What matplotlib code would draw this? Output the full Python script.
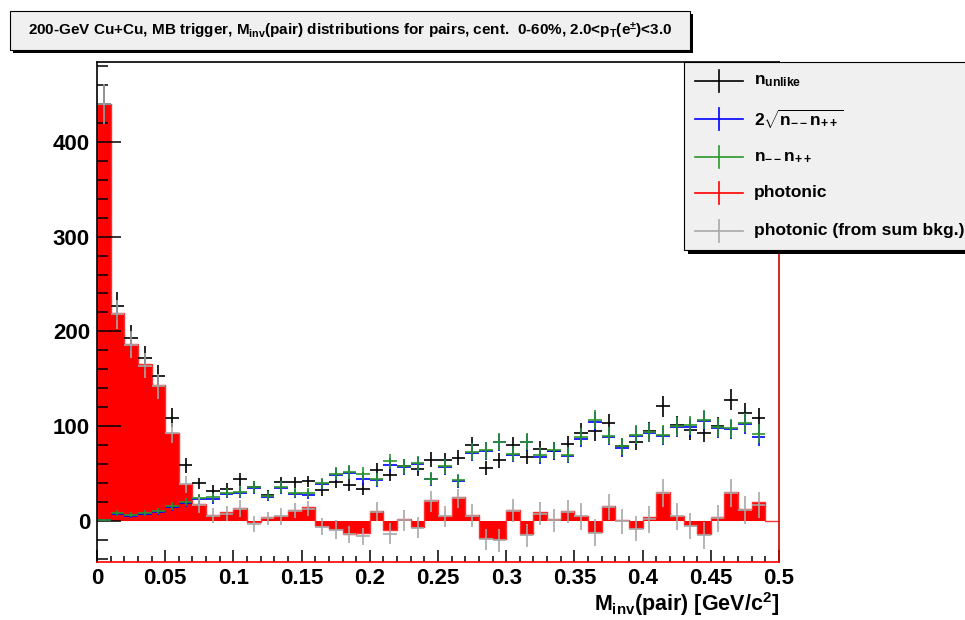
import numpy as np
import matplotlib
matplotlib.use('Agg')
from matplotlib import pyplot as plt
from matplotlib.patches import Rectangle
from matplotlib.lines import Line2D
from matplotlib.ticker import MultipleLocator

plt.rcParams['font.family'] = ['Liberation Sans', 'DejaVu Sans']
plt.rcParams['font.weight'] = 'bold'
plt.rcParams['mathtext.fontset'] = 'custom'
plt.rcParams['mathtext.rm'] = 'Liberation Sans:bold'
plt.rcParams['mathtext.it'] = 'Liberation Sans:bold'
plt.rcParams['mathtext.bf'] = 'Liberation Sans:bold'
plt.rcParams['mathtext.sf'] = 'Liberation Sans:bold'

# 50 bins of 0.01 GeV/c^2 from 0 to 0.5
bin_lo = 0.0
bin_w = 0.01
nbins = 50

# photonic (red histogram), all 50 bins
photonic = [440, 219, 187, 166, 144, 93, 39, 18, 7, 10,
            14, -1, 4, 6, 12, 15, -5, -8, -13, -12,
            11, -9, 2, -6, 22, 6, 25, 7, -18, -19,
            12, -14, 10, 2, 11, 6, -11, 16, 1, -7,
            4, 31, 6, -4, -14, 4, 31, 13, 20, 0]

# marker series, first 49 bins (last bin empty)
n_unlike = [440, 227, 193, 172, 153, 109, 59, 40, 32, 34,
            44, 36, 28, 41, 41, 42, 33, 41, 38, 34,
            54, 49, 58, 55, 65, 64, 67, 80, 56, 64,
            80, 68, 76, 74, 81, 93, 95, 103, 79, 84,
            95, 121, 101, 96, 93, 100, 128, 114, 109]
n_unlike_err = [21, 15, 14, 13, 12, 10, 8, 6, 6, 6,
                7, 6, 5, 6, 6, 6, 6, 6, 6, 6,
                7, 7, 8, 7, 8, 8, 8, 9, 7, 8,
                9, 8, 9, 9, 9, 10, 10, 10, 9, 9,
                10, 11, 10, 10, 10, 10, 11, 11, 10]

bkg_sum = [1, 9, 7, 9, 11, 16, 20, 24, 25, 30,
           31, 36, 27, 36, 30, 30, 40, 50, 52, 50,
           44, 63, 58, 61, 45, 58, 43, 73, 75, 84,
           71, 84, 70, 75, 70, 89, 107, 90, 79, 91,
           94, 91, 100, 101, 107, 99, 98, 104, 92]
bkg_geo = [1, 8, 6, 8, 10, 15, 19, 23, 23, 29,
           30, 35, 26, 35, 29, 28, 39, 49, 51, 45,
           43, 59, 57, 60, 44, 57, 42, 72, 74, 83,
           70, 83, 68, 74, 69, 87, 105, 89, 77, 90,
           93, 90, 99, 99, 106, 98, 97, 102, 89]
bkg_err = [1, 3, 3, 3, 3, 4, 4, 5, 5, 5,
           6, 6, 5, 6, 5, 5, 6, 7, 7, 7,
           7, 8, 8, 8, 7, 8, 7, 9, 9, 9,
           8, 9, 8, 9, 8, 9, 10, 9, 9, 10,
           10, 10, 10, 10, 10, 10, 10, 10, 10]

photonic_sum = [440, 218, 186, 164, 142, 93, 39, 17, 6, 8,
                13, -3, 3, 5, 11, 13, -6, -9, -14, -16,
                10, -13, 1, -7, 21, 5, 24, 6, -19, -20,
                11, -15, 8, 1, 10, 5, -12, 15, 0, -8,
                2, 30, 5, -5, -15, 3, 30, 12, 17]
photonic_sum_err = [21, 15, 14, 13, 13, 11, 9, 8, 8, 8,
                    9, 8, 7, 9, 8, 8, 9, 10, 9, 9,
                    10, 11, 11, 11, 11, 11, 10, 12, 11, 12,
                    12, 12, 12, 12, 12, 14, 14, 14, 13, 13,
                    14, 15, 14, 14, 14, 14, 15, 15, 14]

labels = [r'$n_{unlike}$', r'$2\sqrt{n_{--}n_{++}}$', r'$n_{--}n_{++}$',
          'photonic', 'photonic (from sum bkg.)']
colors = ['black', '#0000ff', '#2a962a', '#ff0000', '#a8a8a8']

title = (r'200-GeV Cu+Cu, MB trigger, $M_{inv}$(pair) distributions for pairs, '
         r'cent.  0-60%, 2.0<$p_{T}$(e$^{\pm}$)<3.0')

W, H = 965, 620
fig = plt.figure(figsize=(W / 100, H / 100), dpi=100)
ax = fig.add_axes([97 / W, 1 - 562 / H, (779 - 97) / W, (562 - 62) / H])

edges = bin_lo + bin_w * np.arange(nbins + 1)
centers = edges[:-1] + bin_w / 2
m = len(n_unlike)

ax.stairs(photonic, edges, baseline=0, fill=True, color='#ff0000', lw=0)
ax.stairs(photonic, edges, baseline=0, color='#ff3030', lw=1.0)

series = [(n_unlike, n_unlike_err, colors[0]),
          (bkg_geo, bkg_err, colors[1]),
          (bkg_sum, bkg_err, colors[2]),
          (photonic_sum, photonic_sum_err, colors[4])]
for vals, errs, c in series:
    ax.errorbar(centers[:m], vals, xerr=bin_w / 2, yerr=errs, fmt='none',
                ecolor=c, elinewidth=1.2, capsize=0)

ax.set_xlim(0, 0.5)
ax.set_ylim(-43, 484)
ax.xaxis.set_minor_locator(MultipleLocator(0.01))
ax.yaxis.set_major_locator(MultipleLocator(100))
ax.yaxis.set_minor_locator(MultipleLocator(20))
ax.set_xticks([0, 0.05, 0.1, 0.15, 0.2, 0.25, 0.3, 0.35, 0.4, 0.45, 0.5])
ax.set_xticklabels(['0', '0.05', '0.1', '0.15', '0.2', '0.25', '0.3', '0.35',
                    '0.4', '0.45', '0.5'])
ax.tick_params(which='both', direction='in', top=False, right=False,
               labelsize=16, width=1.1)
ax.tick_params(axis='y', which='major', length=17, pad=5)
ax.tick_params(axis='y', which='minor', length=8)
ax.tick_params(axis='x', which='major', length=9, pad=4)
ax.tick_params(axis='x', which='minor', length=4.5)
for lab in ax.get_xticklabels() + ax.get_yticklabels():
    lab.set_fontweight('bold')

ax.spines['left'].set_color('black')
ax.spines['top'].set_color('black')
ax.spines['right'].set_color('#cc0000')
ax.spines['bottom'].set_color('#ff0000')
for s in ax.spines.values():
    s.set_linewidth(1.2)

fig.text(779 / W, 1 - 611 / H, r'$M_{inv}$(pair) [GeV/c$^{2}$]', ha='right',
         va='baseline', fontsize=15.5, fontweight='bold')

# title box with shadow
tf = fig.transFigure
fig.patches.append(Rectangle((13 / W, 1 - 53 / H), 680 / W, 39 / H,
                             transform=tf, facecolor='black', edgecolor='none'))
fig.patches.append(Rectangle((10 / W, 1 - 50 / H), 680 / W, 39 / H,
                             transform=tf, facecolor='#f0f0f0',
                             edgecolor='black', lw=0.8))
fig.text(350 / W, 1 - 31 / H, title, ha='center', va='center', fontsize=11.0,
         fontweight='bold')

# legend box with shadow
fig.patches.append(Rectangle((688 / W, 1 - 254 / H), 300 / W, 188 / H,
                             transform=tf, facecolor='black', edgecolor='none',
                             zorder=3))
fig.patches.append(Rectangle((684 / W, 1 - 250 / H), 300 / W, 188 / H,
                             transform=tf, facecolor='#f0f0f0',
                             edgecolor='black', lw=0.8, zorder=3))
rows = [81, 119, 157, 193, 231]
for lab, c, ry in zip(labels, colors, rows):
    yf = 1 - ry / H
    fig.lines.append(Line2D([695 / W, 743 / W], [yf, yf], transform=tf,
                            color=c, lw=1.2, zorder=4))
    fig.lines.append(Line2D([719 / W, 719 / W], [yf - 11 / H, yf + 11 / H],
                            transform=tf, color=c, lw=1.2, zorder=4))
    fig.text(754 / W, yf, lab, ha='left', va='center', fontsize=12.5,
             fontweight='bold', zorder=5)

fig.savefig('out.png', dpi=100)
